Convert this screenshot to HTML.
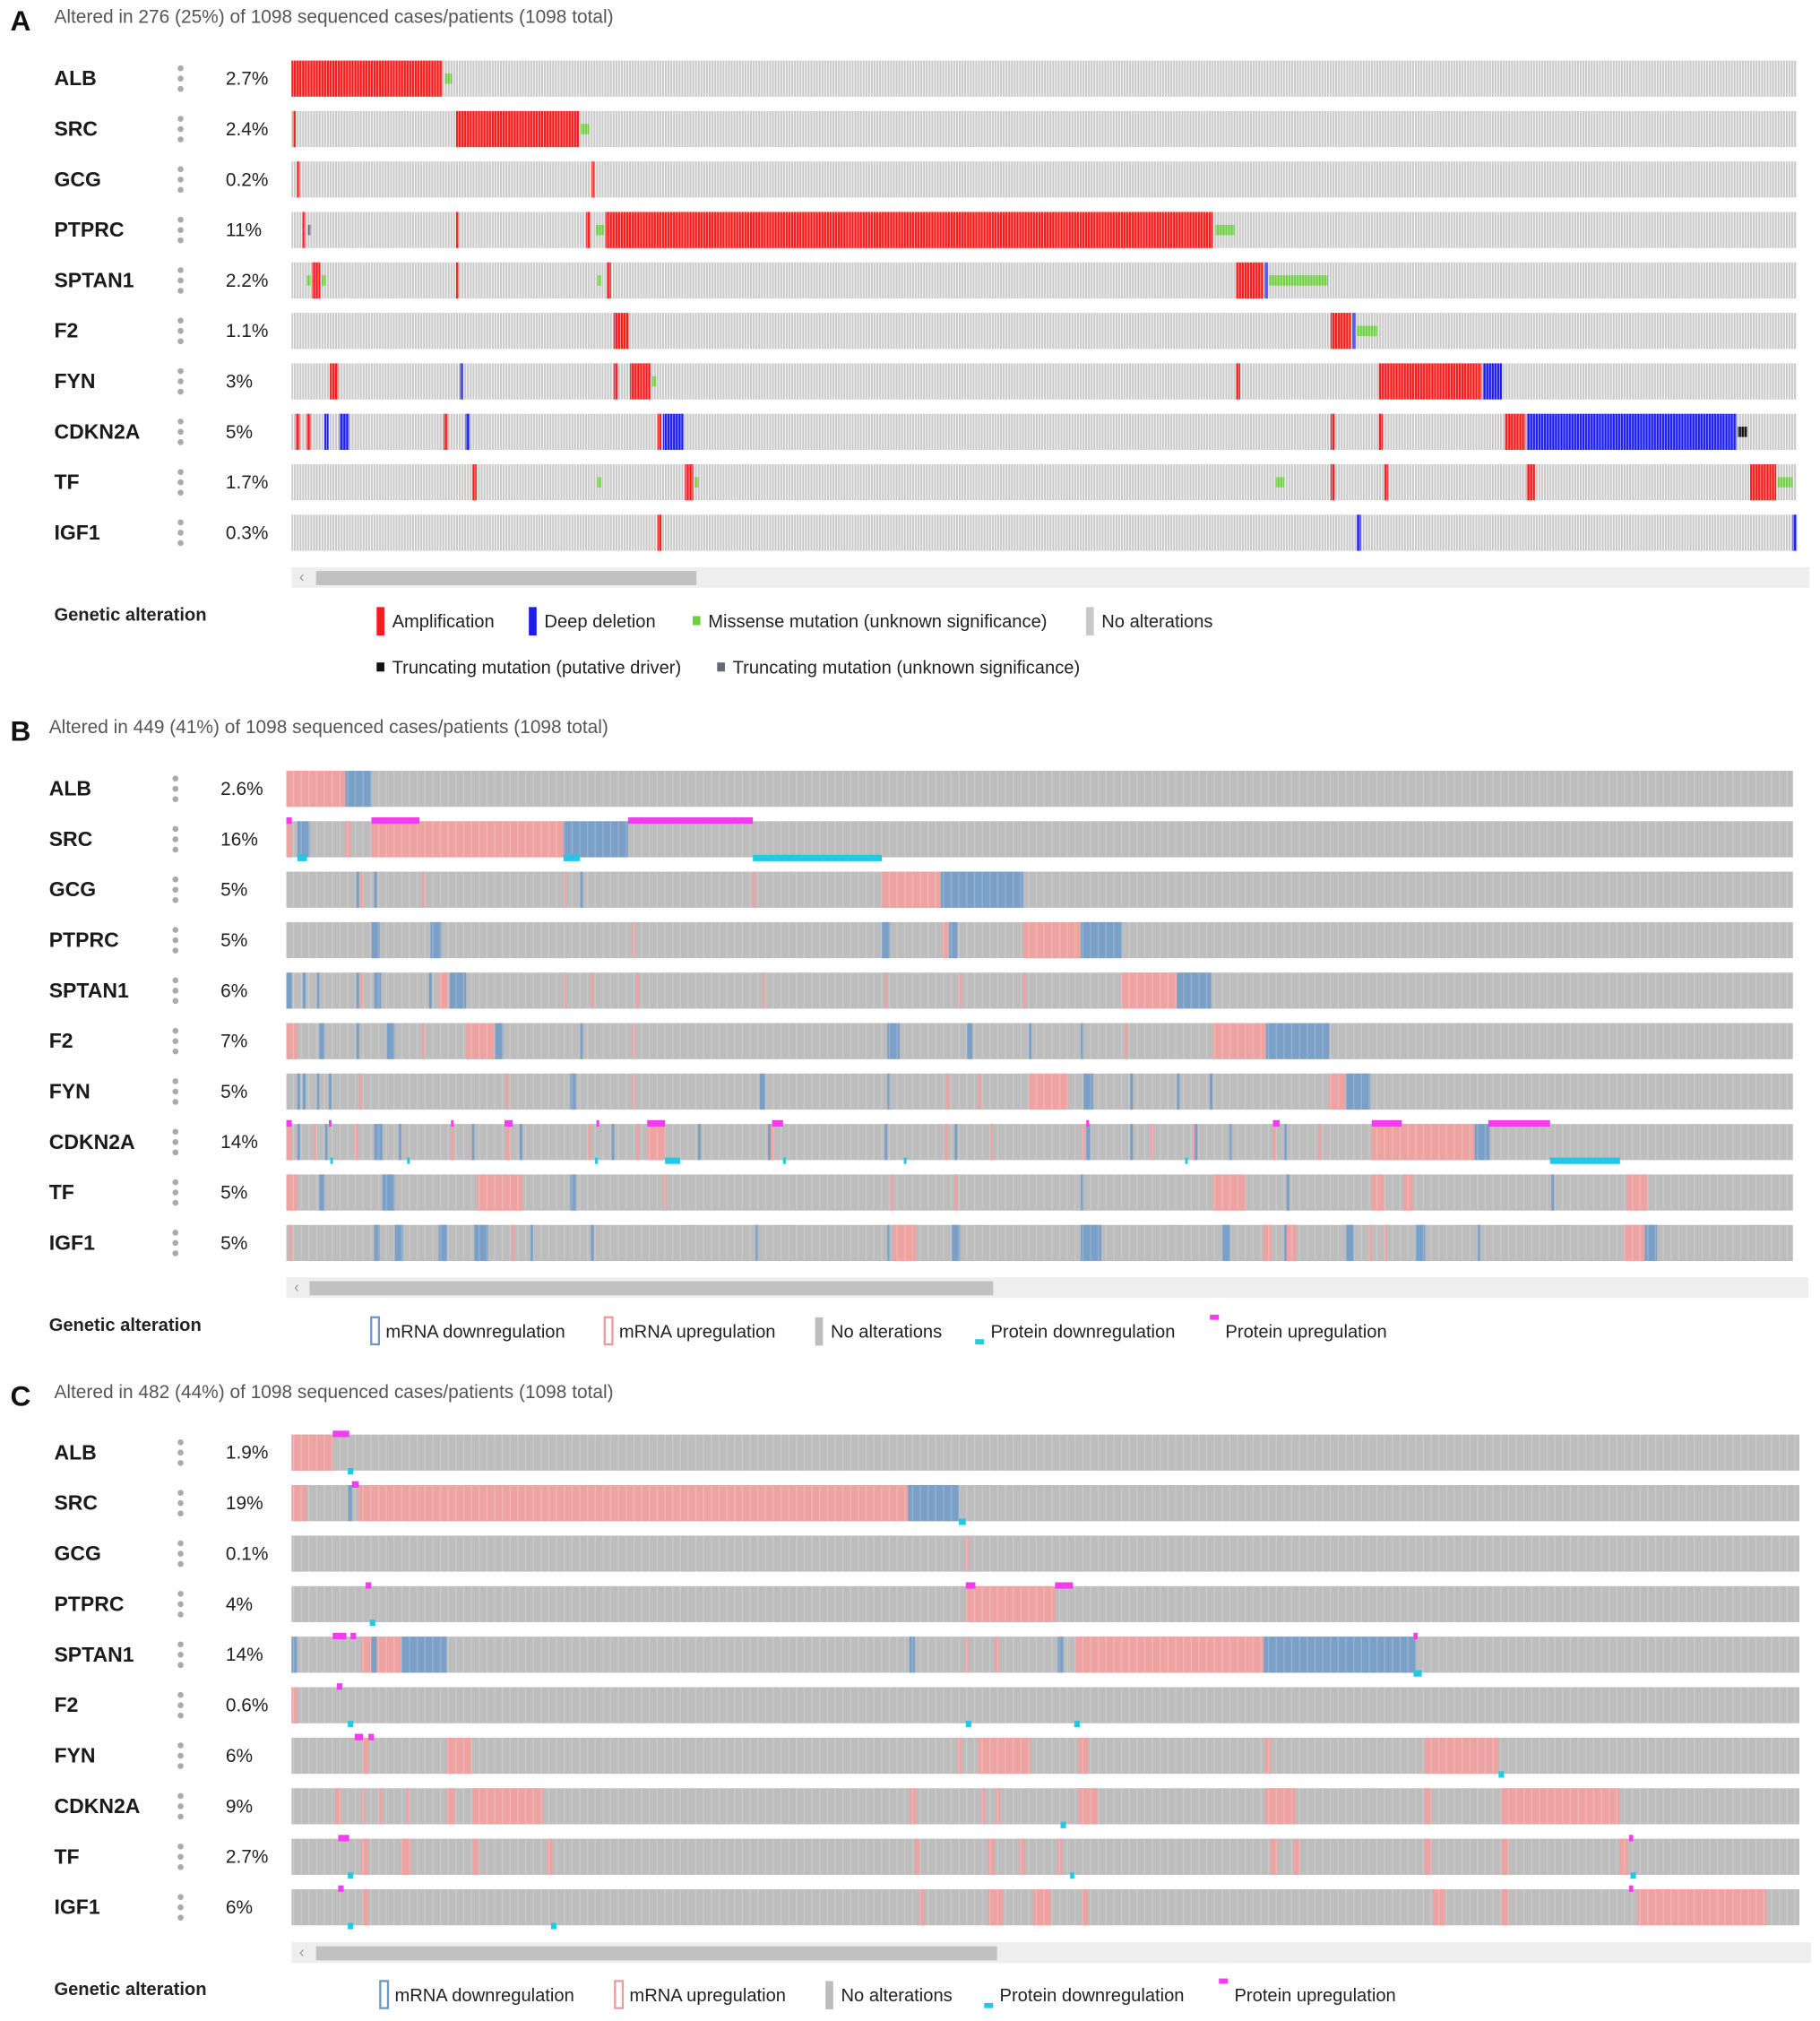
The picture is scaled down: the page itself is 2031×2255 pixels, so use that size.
<!DOCTYPE html>
<html><head><meta charset="utf-8"><style>
html,body{margin:0;padding:0;background:#fff;}
svg{display:block;font-family:"Liberation Sans","DejaVu Sans",sans-serif;}
</style></head><body>
<svg id="chart" width="2031" height="2255" viewBox="0 0 1411 1568" preserveAspectRatio="none" xmlns="http://www.w3.org/2000/svg">
<defs>
<pattern id="stripeA" patternUnits="userSpaceOnUse" width="2.13" height="40"><rect width="2.13" height="40" fill="#c9c9c9"/><rect x="1.45" width="0.68" height="40" fill="#ececec"/></pattern>
<pattern id="stripeW" patternUnits="userSpaceOnUse" width="2.13" height="40"><rect x="1.45" width="0.68" height="40" fill="rgba(255,255,255,0.55)"/></pattern>
<pattern id="stripeL" patternUnits="userSpaceOnUse" width="6" height="40"><rect x="5" width="1" height="40" fill="rgba(255,255,255,0.18)"/></pattern>
</defs>
<g id="root"></g>
</svg>
<script>
const genes = ["ALB","SRC","GCG","PTPRC","SPTAN1","F2","FYN","CDKN2A","TF","IGF1"];
const N = 1098;
// Panel A
const pctA = ["2.7%","2.4%","0.2%","11%","2.2%","1.1%","3%","5%","1.7%","0.3%"];
const ampA = [[[0,110]],[[1,3],[120,210]],[[4,6],[219,221]],[[8,10],[120,122],[215,218],[229,672]],[[15,21],[120,122],[230,233],[689,709]],[[235,246],[758,773]],[[28,34],[235,238],[247,262],[689,692],[793,868]],[[3,6],[11,14],[111,114],[267,270],[758,761],[793,796],[885,900]],[[132,135],[287,293],[758,761],[797,800],[901,907],[1064,1083]],[[267,270]]];
const delA = [[],[],[],[],[[710,712]],[[774,776]],[[123,125],[869,883]],[[24,27],[35,42],[127,130],[271,286],[901,1054]],[],[[777,780],[1095,1098]]];
const misA = [[[112,117]],[[211,217]],[],[[222,228],[674,688]],[[11,14],[22,25],[223,226],[713,756]],[[777,792]],[[263,266]],[],[[223,226],[294,297],[718,724],[1084,1095]],[]];
const truncDrvA = [[],[],[],[],[],[],[],[[1055,1062]],[],[]];
const truncUnkA = [[],[],[],[[12,14]],[],[],[],[],[],[]];
// Panel B
const pctB = ["2.6%","16%","5%","5%","6%","7%","5%","14%","5%","5%"];
const upB = [[[0,43]],[[0,4],[43,47],[62,202]],[[54,56],[99,101],[202,204],[340,342],[434,477]],[[252,254],[478,482],[537,579]],[[54,56],[111,118],[202,204],[222,224],[255,257],[347,349],[436,438],[490,492],[537,539],[609,649]],[[0,8],[131,152],[99,101],[252,254],[611,613],[675,714]],[[53,55],[160,162],[252,254],[481,483],[504,506],[541,570],[760,772]],[[0,4],[20,22],[50,52],[120,122],[134,136],[160,163],[220,222],[255,257],[263,276],[353,355],[436,438],[480,482],[513,515],[580,582],[630,632],[661,663],[719,721],[752,754],[791,866]],[[0,8],[139,172],[275,277],[440,442],[487,489],[675,699],[791,800],[814,821],[977,992]],[[2,4],[164,166],[442,459],[712,718],[729,736],[789,791],[800,802],[975,990]]];
const downB = [[[43,62]],[[8,17],[202,249]],[[51,53],[64,66],[214,216],[477,537]],[[62,68],[105,113],[434,440],[483,489],[579,609]],[[0,4],[12,14],[22,24],[51,53],[64,69],[104,106],[119,131],[649,674]],[[24,28],[51,53],[73,79],[152,158],[214,216],[438,447],[496,500],[541,543],[579,581],[714,760]],[[8,10],[12,14],[22,24],[31,33],[207,211],[345,349],[438,440],[581,588],[615,617],[649,651],[673,675],[772,790]],[[8,10],[28,30],[64,70],[82,84],[135,137],[170,172],[237,239],[300,302],[351,353],[436,438],[487,489],[583,586],[615,617],[662,664],[687,689],[727,729],[866,877]],[[24,28],[70,79],[207,211],[579,581],[729,731],[922,924]],[[64,68],[79,85],[111,117],[137,147],[178,180],[222,224],[342,344],[438,440],[485,491],[579,594],[682,688],[727,729],[772,778],[823,830],[868,870],[990,999]]];
const protUpB = [[],[[0,4],[62,97],[249,340]],[],[],[],[],[],[[0,4],[31,33],[120,122],[159,165],[226,228],[263,276],[354,362],[583,585],[719,724],[791,813],[876,921]],[],[]];
const protDownB = [[],[[8,15],[202,214],[340,434]],[],[],[],[],[],[[32,34],[88,90],[225,227],[276,287],[362,364],[450,452],[655,657],[921,972]],[],[]];
// Panel C
const pctC = ["1.9%","19%","0.1%","4%","14%","0.6%","6%","9%","2.7%","6%"];
const upC = [[[0,30]],[[0,11],[49,449]],[[491,493]],[[491,556]],[[51,60],[62,80],[491,493],[512,515],[571,708]],[[0,4]],[[52,56],[113,131],[485,488],[500,538],[573,580],[709,713],[825,879]],[[32,36],[51,53],[64,66],[84,86],[113,119],[132,183],[450,455],[502,505],[513,516],[573,587],[709,731],[825,830],[881,967]],[[51,56],[80,87],[132,136],[186,190],[454,457],[507,512],[530,534],[558,561],[713,718],[730,734],[825,830],[881,886],[967,973]],[[52,56],[457,461],[507,518],[540,553],[576,580],[831,840],[881,886],[980,1074]]];
const downC = [[],[[41,44],[449,486]],[],[],[[0,4],[58,62],[80,113],[450,454],[558,562],[708,819]],[],[],[],[],[]];
const protUpC = [[[30,42]],[[44,49]],[],[[54,58],[491,498],[556,569]],[[30,40],[43,47],[817,820]],[[33,37]],[[46,52],[56,60]],[],[[34,42],[974,977]],[[34,38],[974,977]]];
const protDownC = [[[41,45]],[[486,491]],[],[[57,61]],[[817,823]],[[41,45],[491,495],[570,574]],[[879,883]],[[560,564]],[[41,45],[567,570],[975,979]],[[41,45],[189,193]]];

const NS = "http://www.w3.org/2000/svg";
const root = document.getElementById('root');
function el(tag, attrs, parent, text){
  const e = document.createElementNS(NS, tag);
  for (const k in attrs) e.setAttribute(k, attrs[k]);
  if (text !== undefined) e.textContent = text;
  (parent||root).appendChild(e);
  return e;
}
function txt(x,y,s,size,opts,parent,name){
  const t = el('text', Object.assign({x:x,y:y,'font-size':size,fill:'#222','dominant-baseline':'middle'},opts||{}), parent, s);
  
  
  return t;
}

function panel(p){
  const g = el('g',{});
  
  
  txt(p.letterX, p.headY+4, p.letter, 22, {'font-weight':'bold',fill:'#111'}, g, 'panel-letter');
  txt(p.headX, p.headY, p.header, 14.5, {fill:'#555'}, g, 'altered-summary');
  const xs = i => p.x0 + i * p.w / N;
  genes.forEach((gname, r) => {
    const cy = p.rows[0] + r * p.rowStep;
    const y = cy - 14, h = 28;
    const row = el('g',{}, g);
    
    
    txt(p.labelX, cy+1, gname, 16, {'font-weight':'bold',fill:'#1a1a1a'}, row, 'gene-label');
    const dots = el('g',{}, row);
    
    
    [-8,0,8].forEach(d => el('circle',{cx:p.dotX, cy:cy+d, r:2.3, fill:'#aaa'}, dots));
    txt(p.pctX, cy+1, p.pct[r], 14.5, {fill:'#222'}, row, 'percent-altered');
    const bg = el('rect',{x:p.x0,y:y,width:p.w,height:h,fill:p.kind==='A'?'url(#stripeA)':'#bdbdbd'}, row);
    
    
    const seg = (arr, color, name, yy, hh) => {
      (arr[r]||[]).forEach(s => {
        const rc = el('rect',{x:xs(s[0]), y:yy, width:Math.max(1.2, xs(s[1]) - xs(s[0])), height:hh, fill:color}, row);
        
        
      });
    };
    if (p.kind==='A'){
      seg(ampA,'#f31b1b','amplification',y,h);
      seg(delA,'#1c1cf0','deep-deletion',y,h);
      seg(misA,'#6ccf3c','missense-mutation',cy-4,8);
      seg(truncDrvA,'#111','truncating-driver',cy-4,8);
      seg(truncUnkA,'#667','truncating-unknown',cy-4,8);
      el('rect',{x:p.x0,y:y,width:p.w,height:h,fill:'url(#stripeW)'}, row);
    } else {
      seg(p.up,'#eea3a3','mrna-upregulation',y,h);
      seg(p.down,'#7ba0c8','mrna-downregulation',y,h);
      el('rect',{x:p.x0,y:y,width:p.w,height:h,fill:'url(#stripeL)'}, row);
      seg(p.pu,'#f23cf0','protein-upregulation',y-3,5);
      seg(p.pd,'#22c9e6','protein-downregulation',y+h-2,5);
    }
  });
  // scrollbar
  const sb = el('rect',{x:p.x0,y:p.sbY,width:p.sbW,height:16,fill:'#eeeeee'}, g);
  
  
  const th = el('rect',{x:p.thumb[0],y:p.sbY+3,width:p.thumb[1]-p.thumb[0],height:11,fill:'#c1c1c1'}, g);
  
  
  txt(p.x0+6,p.sbY+8,'‹',12,{fill:'#999'},g,'scroll-left-arrow');
  // legend
  txt(p.labelX, p.legY-4, 'Genetic alteration', 14, {'font-weight':'bold',fill:'#222'}, g, 'legend-title');
  p.legend.forEach(L => {
    const lg = el('g',{}, g);
    
    
    if (L.t==='bar') el('rect',{x:L.x,y:L.y-11,width:6,height:22,fill:L.c},lg);
    if (L.t==='sq') el('rect',{x:L.x,y:L.y-4,width:6,height:7,fill:L.c},lg);
    if (L.t==='out') el('rect',{x:L.x+0.8,y:L.y-11,width:6,height:21,fill:'none',stroke:L.c,'stroke-width':1.6},lg);
    if (L.t==='lo') el('rect',{x:L.x,y:L.y+6,width:7,height:4,fill:L.c},lg);
    if (L.t==='hi') el('rect',{x:L.x,y:L.y-13,width:7,height:4,fill:L.c},lg);
    txt(L.x+12, L.y+1, L.s, 14, {fill:'#222'}, lg, 'legend-label');
  });
}

panel({kind:'A',letter:'A',letterX:8,headX:42,headY:14,header:'Altered in 276 (25%) of 1098 sequenced cases/patients (1098 total)',
  x0:226,w:1167,rows:[61],rowStep:39.15,labelX:42,dotX:140,pctX:175,pct:pctA,
  sbY:440,sbW:1177,thumb:[245,540],legY:482,
  legend:[{t:'bar',x:292,y:482,c:'#f31b1b',s:'Amplification'},{t:'bar',x:410,y:482,c:'#1c1cf0',s:'Deep deletion'},
    {t:'sq',x:537,y:482,c:'#6ccf3c',s:'Missense mutation (unknown significance)'},{t:'bar',x:842,y:482,c:'#c8c8c8',s:'No alterations'},
    {t:'sq',x:292,y:518,c:'#111',s:'Truncating mutation (putative driver)'},{t:'sq',x:556,y:518,c:'#667',s:'Truncating mutation (unknown significance)'}]});
panel({kind:'B',letter:'B',letterX:8,headX:38,headY:565,header:'Altered in 449 (41%) of 1098 sequenced cases/patients (1098 total)',
  x0:222,w:1168,rows:[612],rowStep:39.15,labelX:38,dotX:136,pctX:171,pct:pctB,up:upB,down:downB,pu:protUpB,pd:protDownB,
  sbY:991,sbW:1180,thumb:[240,770],legY:1033,
  legend:[{t:'out',x:287,y:1033,c:'#6f98c6',s:'mRNA downregulation'},{t:'out',x:468,y:1033,c:'#ee9a9a',s:'mRNA upregulation'},
    {t:'bar',x:632,y:1033,c:'#bdbdbd',s:'No alterations'},{t:'lo',x:756,y:1033,c:'#22c9e6',s:'Protein downregulation'},
    {t:'hi',x:938,y:1033,c:'#f23cf0',s:'Protein upregulation'}]});
panel({kind:'C',letter:'C',letterX:8,headX:42,headY:1081,header:'Altered in 482 (44%) of 1098 sequenced cases/patients (1098 total)',
  x0:226,w:1169,rows:[1127],rowStep:39.2,labelX:42,dotX:140,pctX:175,pct:pctC,up:upC,down:downC,pu:protUpC,pd:protDownC,
  sbY:1507,sbW:1178,thumb:[245,773],legY:1548,
  legend:[{t:'out',x:294,y:1548,c:'#6f98c6',s:'mRNA downregulation'},{t:'out',x:476,y:1548,c:'#ee9a9a',s:'mRNA upregulation'},
    {t:'bar',x:640,y:1548,c:'#bdbdbd',s:'No alterations'},{t:'lo',x:763,y:1548,c:'#22c9e6',s:'Protein downregulation'},
    {t:'hi',x:945,y:1548,c:'#f23cf0',s:'Protein upregulation'}]});
</script>
</body></html>
